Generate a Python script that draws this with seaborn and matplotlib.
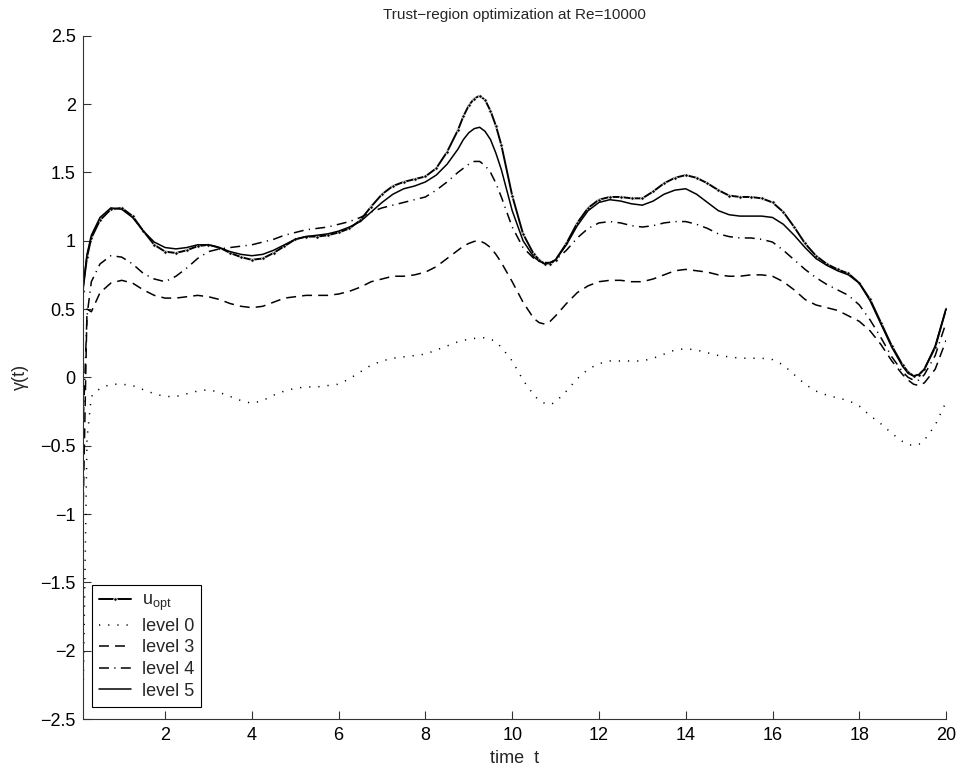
import numpy as np
import pandas as pd
import matplotlib
matplotlib.use("Agg")
import matplotlib.pyplot as plt
from matplotlib.ticker import FuncFormatter
import seaborn as sns

# time grid of the stored trajectories
t = [0.1, 0.2, 0.3, 0.5, 0.75, 1.0, 1.25, 1.5, 1.75, 2.0, 2.25, 2.5, 2.75, 3.0, 3.25, 3.5,
     3.75, 4.0, 4.25, 4.5, 4.75, 5.0, 5.25, 5.5, 5.75, 6.0, 6.25, 6.5, 6.75, 7.0, 7.25, 7.5,
     7.75, 8.0, 8.25, 8.5, 8.75, 8.875, 9.0, 9.125, 9.25, 9.375, 9.5, 9.625, 9.75, 10.0, 10.25,
     10.5, 10.625, 10.75, 10.875, 11.0, 11.25,
     11.5, 11.75, 12.0, 12.25, 12.5, 12.75, 13.0, 13.25, 13.5, 13.75, 14.0, 14.25, 14.5, 14.75,
     15.0, 15.25, 15.5, 15.75, 16.0, 16.25, 16.5, 16.75, 17.0, 17.25, 17.5, 17.75, 18.0, 18.25,
     18.5, 18.75, 19.0, 19.125, 19.25, 19.375, 19.5, 19.75, 20.0]

u_opt = [0.63, 0.88, 1.02, 1.15, 1.23, 1.24, 1.18, 1.07, 0.97, 0.92, 0.91, 0.93, 0.96, 0.97, 0.95, 0.91,
         0.88, 0.86, 0.87, 0.91, 0.96, 1.01, 1.03, 1.03, 1.04, 1.06, 1.09, 1.15, 1.25, 1.34, 1.40, 1.43,
         1.45, 1.47, 1.53, 1.65, 1.81, 1.91, 1.99, 2.04, 2.06, 2.03, 1.95, 1.84, 1.70, 1.33, 1.05,
         0.90, 0.86, 0.83, 0.83, 0.86, 0.98,
         1.13, 1.24, 1.30, 1.32, 1.32, 1.31, 1.31, 1.36, 1.42, 1.46, 1.48, 1.46, 1.42, 1.37,
         1.33, 1.32, 1.32, 1.31, 1.28, 1.21, 1.10, 0.98, 0.89, 0.83, 0.79, 0.76, 0.69, 0.57,
         0.40, 0.23, 0.09, 0.04, 0.01, 0.02, 0.06, 0.22, 0.50]

level0 = [-2.55, -0.45, -0.14, -0.08, -0.05, -0.05, -0.06, -0.09, -0.12, -0.14, -0.14, -0.12, -0.10, -0.09, -0.11, -0.14,
          -0.17, -0.19, -0.17, -0.13, -0.10, -0.08, -0.07, -0.07, -0.06, -0.05, -0.01, 0.04, 0.09, 0.12, 0.14, 0.15,
          0.16, 0.17, 0.20, 0.23, 0.26, 0.27, 0.28, 0.285, 0.29, 0.29, 0.28, 0.26, 0.22, 0.12, -0.02,
          -0.13, -0.17, -0.19, -0.20, -0.18, -0.10,
          -0.01, 0.06, 0.10, 0.12, 0.12, 0.12, 0.12, 0.14, 0.17, 0.20, 0.21, 0.20, 0.18, 0.16,
          0.15, 0.14, 0.14, 0.14, 0.13, 0.09, 0.02, -0.05, -0.10, -0.13, -0.15, -0.17, -0.21, -0.28,
          -0.34, -0.41, -0.47, -0.49, -0.50, -0.49, -0.46, -0.35, -0.18]

level3 = [-1.15, 0.50, 0.48, 0.62, 0.69, 0.71, 0.69, 0.64, 0.60, 0.58, 0.58, 0.59, 0.60, 0.59, 0.57, 0.54,
          0.52, 0.51, 0.52, 0.55, 0.58, 0.59, 0.60, 0.60, 0.60, 0.61, 0.63, 0.66, 0.70, 0.72, 0.74, 0.74,
          0.75, 0.77, 0.81, 0.87, 0.93, 0.96, 0.98, 0.995, 1.00, 0.98, 0.95, 0.90, 0.84, 0.70, 0.55,
          0.43, 0.40, 0.39, 0.41, 0.45, 0.54,
          0.62, 0.67, 0.70, 0.71, 0.71, 0.70, 0.70, 0.72, 0.75, 0.78, 0.79, 0.78, 0.77, 0.75,
          0.74, 0.74, 0.75, 0.75, 0.74, 0.70, 0.64, 0.57, 0.53, 0.51, 0.49, 0.45, 0.41, 0.34,
          0.24, 0.12, 0.02, -0.02, -0.05, -0.06, -0.04, 0.06, 0.27]

level4 = [-0.45, 0.45, 0.70, 0.83, 0.89, 0.88, 0.83, 0.76, 0.72, 0.70, 0.74, 0.80, 0.87, 0.92, 0.94, 0.95,
          0.96, 0.97, 0.99, 1.01, 1.04, 1.06, 1.08, 1.09, 1.10, 1.12, 1.14, 1.17, 1.21, 1.24, 1.26, 1.28,
          1.30, 1.32, 1.37, 1.43, 1.50, 1.53, 1.56, 1.58, 1.58, 1.55, 1.50, 1.42, 1.32, 1.10, 0.95,
          0.87, 0.85, 0.84, 0.84, 0.86, 0.93,
          1.02, 1.09, 1.13, 1.14, 1.13, 1.11, 1.10, 1.11, 1.13, 1.14, 1.14, 1.12, 1.09, 1.05,
          1.03, 1.02, 1.02, 1.01, 0.99, 0.93, 0.86, 0.79, 0.73, 0.68, 0.64, 0.60, 0.53, 0.42,
          0.29, 0.15, 0.04, 0.00, -0.02, -0.02, 0.02, 0.16, 0.40]

level5 = [0.63, 0.90, 1.04, 1.17, 1.24, 1.23, 1.17, 1.07, 0.99, 0.95, 0.94, 0.95, 0.97, 0.97, 0.95, 0.92,
          0.90, 0.89, 0.90, 0.93, 0.97, 1.01, 1.03, 1.04, 1.05, 1.07, 1.10, 1.14, 1.21, 1.28, 1.34, 1.38,
          1.40, 1.43, 1.48, 1.56, 1.67, 1.74, 1.79, 1.82, 1.83, 1.80, 1.74, 1.64, 1.52, 1.22, 1.00,
          0.88, 0.85, 0.83, 0.84, 0.86, 0.97,
          1.11, 1.22, 1.28, 1.30, 1.29, 1.27, 1.26, 1.29, 1.34, 1.37, 1.38, 1.34, 1.28, 1.22,
          1.19, 1.18, 1.18, 1.18, 1.17, 1.12, 1.04, 0.95, 0.87, 0.82, 0.78, 0.75, 0.69, 0.56,
          0.39, 0.22, 0.08, 0.03, 0.01, 0.02, 0.06, 0.23, 0.50]

labels = [r"u$_{\mathregular{opt}}$", "level 0", "level 3", "level 4", "level 5"]
xticks = [2, 4, 6, 8, 10, 12, 14, 16, 18, 20]
yticks = [-2.5, -2, -1.5, -1, -0.5, 0, 0.5, 1, 1.5, 2, 2.5]

sns.set_style("ticks")
plt.rcParams["font.family"] = ["Liberation Sans", "DejaVu Sans"]
plt.rcParams["mathtext.fontset"] = "custom"
plt.rcParams["mathtext.rm"] = "Liberation Sans"
plt.rcParams["mathtext.it"] = "Liberation Sans"
plt.rcParams["axes.unicode_minus"] = True

fig = plt.figure(figsize=(9.59, 7.71), dpi=100)
ax = fig.add_axes([0.0862, 0.0674, 0.9003, 0.8863])

lw = 1.1
styles = [
    dict(linestyle="-", linewidth=1.4, marker=".", markersize=5, markeredgewidth=0.6),
    dict(linestyle=(0, (0.8, 5.2)), linewidth=lw),
    dict(linestyle=(0, (6.5, 4.0)), linewidth=lw),
    dict(linestyle=(0, (6.5, 3.5, 0.8, 3.5)), linewidth=lw),
    dict(linestyle="-", linewidth=lw),
]
series = [u_opt, level0, level3, level4, level5]

for vals, lab, st in zip(series, labels, styles):
    df = pd.DataFrame({"t": t, "gamma": vals})
    sns.lineplot(data=df, x="t", y="gamma", ax=ax, color="black",
                 estimator=None, label=lab, **st)

ax.set_xlim(0.1, 20)
ax.set_ylim(-2.5, 2.5)
ax.set_xticks(xticks)
ax.set_yticks(yticks)
fmt = FuncFormatter(lambda v, p: ("%g" % v).replace("-", "\u2212"))
ax.xaxis.set_major_formatter(fmt)
ax.yaxis.set_major_formatter(fmt)
ax.tick_params(direction="in", length=6, width=0.8, colors="#333333",
               labelcolor="black", labelsize=13)
ax.tick_params(axis="x", pad=6)
ax.tick_params(axis="y", pad=5)
for side in ["top", "right"]:
    ax.spines[side].set_visible(False)
for side in ["left", "bottom"]:
    ax.spines[side].set_color("#333333")
    ax.spines[side].set_linewidth(0.8)

ax.set_xlabel("time  t", fontsize=13, labelpad=4)
ax.set_ylabel("\u03b3(t)", fontsize=13, labelpad=8)
ax.set_title("Trust\u2212region optimization at Re=10000", fontsize=11, pad=12)

leg = ax.legend(loc="lower left", bbox_to_anchor=(0.011, 0.018), fontsize=13,
                frameon=True, fancybox=False, shadow=False, borderaxespad=0,
                handlelength=1.75, handletextpad=0.6, labelspacing=0.25,
                borderpad=0.4, numpoints=1)
leg.get_frame().set_edgecolor("black")
leg.get_frame().set_linewidth(0.8)
leg.get_frame().set_alpha(1)

fig.savefig("out.png", dpi=100, facecolor="white")
